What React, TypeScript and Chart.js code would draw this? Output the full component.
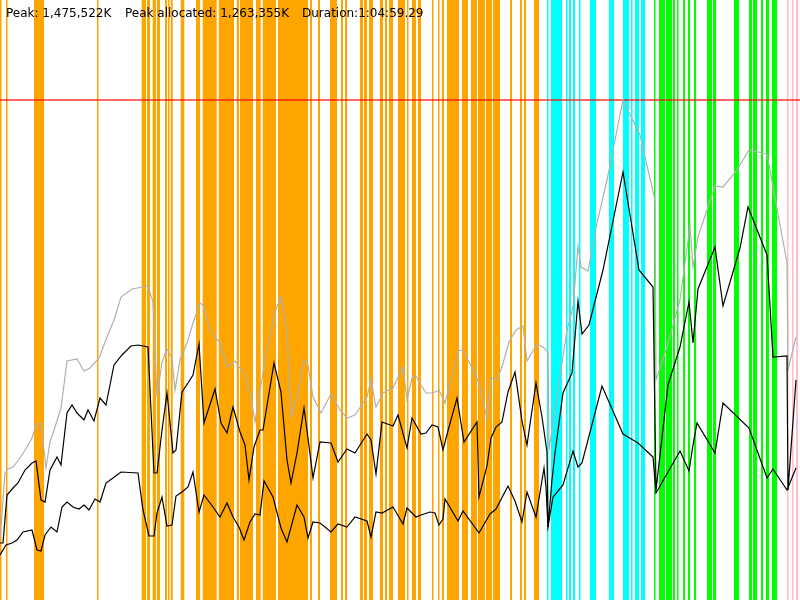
import React, { useEffect, useRef } from "react";
import { Chart, registerables } from "chart.js";

Chart.register(...registerables);

// Elapsed time as % of run duration (1:04:59.29); memory as % of peak (1,475,522K)
const peakLabel = "Peak: 1,475,522K";
const allocLabel = "Peak allocated: 1,263,355K";
const durationLabel = "Duration:1:04:59.29";
const peakLevel = 100;

const committedT = [0, 0.625, 1, 1.625, 2.5, 3.375, 4, 4.5, 5.125, 5.75, 6.25, 6.875, 7.625, 8.375, 9.625, 10.5, 11.25, 12.375, 13.375, 14.25, 15.125, 16.5, 18.5, 19.125, 19.625, 20.25, 20.875, 21.5, 21.875, 22.5, 23.375, 24.125, 25, 25.5, 26.25, 27, 27.5, 28.375, 29.375, 30.625, 31.25, 31.875, 32.5, 33.375, 34.375, 35.125, 35.875, 36.375, 37.125, 38, 38.5, 39.125, 40.125, 41.375, 42.5, 43.375, 44.375, 45.875, 46.375, 47, 47.875, 49.125, 50.375, 50.875, 51.5, 52, 52.625, 53.25, 54.125, 54.875, 55.625, 56.625, 57.25, 57.875, 59, 59.875, 60.875, 61.375, 62.125, 62.75, 63.625, 64.5, 65.375, 65.875, 67.125, 67.875, 68.5, 68.625, 69.375, 70.25, 70.875, 71.625, 72.25, 72.625, 73.5, 74.625, 75.875, 77.875, 80, 81.875, 82, 83.375, 85, 86.25, 86.625, 87.25, 89.375, 90.375, 92.125, 93.625, 95.875, 98.375, 98.5, 99.5];
const committedV = [12, 25.4, 26.2, 26.6, 28.4, 30.6, 32.4, 35, 35.4, 26.4, 31.6, 34.6, 38.4, 47.8, 48.2, 45.8, 46.4, 48.4, 52.6, 56, 60.6, 62.2, 62.8, 59.6, 40.6, 47.6, 50.2, 48.4, 42, 48, 51.4, 55.4, 59.4, 58.8, 54, 52.2, 51.6, 46.6, 47.8, 45, 41.4, 35.6, 42, 50, 57.6, 60.6, 54, 36.6, 40.6, 48, 47, 40.6, 37.4, 41.2, 38, 36.4, 37, 40.6, 44, 38.6, 41.4, 42.4, 46.6, 40, 44.4, 44.8, 43, 41.4, 41.4, 42, 39.4, 45.4, 49.8, 50, 46.4, 43.4, 36.2, 44.4, 44, 46.6, 51.6, 54, 54.8, 47.8, 51.2, 50.6, 49.6, 30, 38, 47.4, 54, 58.6, 70.8, 66.6, 65.8, 75.4, 84, 100, 93, 80, 44, 50.6, 60, 74.8, 66.6, 72.6, 82.8, 82.6, 86, 90, 89.2, 67.4, 46, 52.6];

const usedT = [0, 0.375, 0.875, 1.625, 2.25, 3.125, 4, 4.5, 5.125, 5.625, 6.25, 7.125, 7.625, 8.375, 9, 9.625, 10.5, 11, 11.75, 12.5, 13.25, 14.25, 15.25, 16.375, 17.25, 18.5, 19.25, 19.625, 20.25, 20.875, 21.625, 22, 22.75, 23.5, 24.125, 24.875, 25.5, 26.875, 27.625, 28.375, 29.125, 30, 30.625, 31.125, 31.75, 32.5, 32.875, 34.25, 35.125, 35.875, 36.375, 37.125, 38, 38.5, 39.125, 40, 41.375, 42.25, 43.375, 44.375, 45.875, 46.375, 47, 47.75, 49.125, 49.75, 50.875, 51.5, 52.625, 53.25, 54, 54.75, 55.375, 56.125, 57.125, 58, 59.625, 59.875, 60.875, 61.375, 62, 62.75, 63.5, 64.375, 65.25, 65.875, 67, 67.75, 68.375, 68.5, 69, 69.375, 70.375, 71.5, 72.25, 72.75, 73.625, 75.375, 77.875, 79.875, 81.625, 82, 83.5, 85, 86.125, 86.625, 87.25, 89.375, 90.375, 92.5, 93.5, 95.875, 96.625, 98.375, 98.5, 99.5];
const usedV = [11.4, 11.4, 21, 22.4, 23.4, 26, 27.4, 27.8, 20, 19.6, 26, 28.6, 27, 37.4, 39, 37.4, 36, 38, 35.8, 40.4, 39, 47, 49, 50.8, 51, 50.6, 25.4, 25.4, 34, 41.4, 29.4, 30, 41.6, 43.4, 45, 51.2, 35.4, 42.2, 35.4, 33.4, 38.6, 33.6, 31, 24, 30.6, 34, 34, 47.4, 41.6, 28, 23.4, 29.4, 38.4, 32.4, 24.4, 31.6, 31.4, 27.6, 30.2, 29.4, 33.2, 32, 25.2, 35.6, 34.8, 37, 30.4, 36.4, 33.2, 33.4, 35, 34.6, 30, 34.6, 40.4, 31.6, 35.6, 20.6, 26.8, 32.4, 34.6, 35.6, 41.6, 45.6, 35.8, 31, 43.4, 36.6, 29.6, 14.6, 24, 29.4, 41.4, 45.4, 59.8, 53.2, 55, 66, 85.6, 66, 62.6, 22, 43, 50.6, 59.6, 51.4, 62.2, 70.6, 58.8, 70.4, 78.6, 69, 48.6, 48.8, 22, 44];

const liveT = [0, 0.75, 1.5, 2.125, 2.875, 4, 4.625, 5.125, 5.625, 6.375, 7.125, 7.75, 8.375, 9.125, 9.875, 10.5, 11.125, 11.875, 12.5, 13.25, 14.125, 15.125, 17.25, 17.875, 18.625, 19.25, 19.625, 20.25, 20.875, 21.5, 22, 22.75, 23.5, 24.125, 24.875, 25.5, 26.625, 27.5, 28.375, 29.125, 29.875, 30.5, 31.25, 31.875, 32.5, 33, 34.125, 35.125, 35.875, 37.125, 38, 38.5, 39.125, 40, 41.375, 42.25, 43.375, 44.375, 45.875, 46.375, 47, 47.75, 49.125, 50.375, 50.875, 52, 52.625, 53.75, 54.375, 54.875, 55.375, 55.625, 57.25, 57.875, 59.875, 61.25, 62, 63.5, 64.375, 65.25, 65.875, 67, 68, 68.25, 68.5, 69.125, 70.375, 71.625, 72.25, 72.75, 75.25, 77.875, 79.75, 81.625, 82, 83.5, 85, 86.125, 86.625, 87.125, 89.375, 90.375, 93.625, 95.875, 96.625, 98.375, 99.5];
const liveV = [9, 11, 11.4, 12, 13.6, 14, 10, 9.8, 13, 14.6, 13.6, 18.6, 19.6, 18.6, 18.2, 19, 18, 20.2, 19.6, 23.4, 24.4, 25.6, 25.4, 18, 12.8, 12.8, 17.4, 20.6, 14.8, 15, 20.8, 21.6, 22.6, 25.6, 17.6, 21, 18.6, 16.6, 19.4, 16.6, 14.6, 12, 15.6, 17.2, 17, 23.8, 20.6, 14.4, 11.6, 19, 16.6, 12.4, 15.6, 15.4, 13.6, 15.2, 14.6, 16.6, 15.8, 12.6, 17.6, 17.4, 18.6, 15.2, 18.4, 16.6, 17, 17.6, 17.4, 15, 16.2, 20.2, 15.8, 17.8, 13.4, 17.2, 18.2, 22.8, 19.8, 15.6, 21.6, 16.6, 26.4, 22.6, 14.6, 20.6, 23, 29.8, 26.6, 27.4, 42.8, 33.2, 31.4, 28.6, 21.4, 25.6, 29.8, 25.8, 31, 35.4, 29.4, 39.4, 34.4, 24.4, 26.2, 22, 26.4];

// Event intervals [start, end] in % of duration
const orangeEvents: [number, number][] = [[0, 0.125], [0.75, 0.94], [4.25, 5.5], [12.125, 12.31], [17.71, 18.25], [18.375, 18.75], [19.09, 19.5], [19.625, 20], [20.625, 20.875], [21, 21.125], [21.34, 21.59], [22.59, 23.04], [24.5, 25], [25.34, 27.09], [27.34, 29.25], [29.59, 29.875], [30, 31.625], [32, 32.59], [32.84, 34.5], [34.75, 38.5], [38.75, 39], [39.75, 40], [41.25, 42.125], [42.625, 42.875], [43.125, 43.375], [45, 45.375], [45.5, 45.875], [46.125, 46.625], [47.5, 47.875], [48.125, 48.375], [48.625, 49.125], [49.75, 50.625], [50.875, 51], [51.5, 52], [52.25, 52.625], [54, 54.125], [54.75, 54.875], [55.25, 55.5], [55.875, 57.375], [57.75, 58.5], [58.875, 59.625], [59.75, 60.625], [60.75, 61.5], [61.625, 62.5], [63.75, 64], [65, 65.25], [65.5, 65.75], [66.75, 67.375]];
const cyanEvents: [number, number][] = [[68.375, 68.5], [68.875, 70.25], [70.75, 70.875], [71.125, 71.375], [71.625, 71.875], [72.375, 72.5], [73.75, 74.5], [76.125, 76.75], [77.875, 78.625], [78.875, 79], [79.375, 79.875], [80.125, 80.625]];
const greenEvents: [number, number][] = [[81.75, 81.875], [82.375, 83.125], [83.25, 84], [84.125, 84.375], [84.625, 84.75], [85.375, 85.625], [86, 86.25], [86.75, 87], [88.375, 89], [89.125, 89.5], [91.75, 92.375], [93.625, 94], [94.125, 94.625], [95.125, 95.375], [95.75, 96.125], [96.5, 97.125]];
const pinkEvents: [number, number][] = [[98.375, 98.5], [99, 99.125], [99.5, 99.75]];

const toPoints = (t: number[], v: number[]) => t.map((x, i) => ({ x, y: v[i] }));

const eventsPlugin = {
  id: "events",
  beforeDatasetsDraw(chart: any) {
    const { ctx, chartArea, scales } = chart;
    const groups: [[number, number][], string][] = [
      [orangeEvents, "#FFA500"],
      [cyanEvents, "#00FFFF"],
      [greenEvents, "#00FF00"],
      [pinkEvents, "#FFC0CB"],
    ];
    ctx.save();
    for (const [list, color] of groups) {
      ctx.fillStyle = color;
      for (const [a, b] of list) {
        const x1 = scales.x.getPixelForValue(a);
        const x2 = scales.x.getPixelForValue(b);
        const w = Math.max(1.5, x2 - x1);
        ctx.fillRect(x1, chartArea.top, w, chartArea.bottom - chartArea.top);
      }
    }
    ctx.restore();
  },
  afterDraw(chart: any) {
    const { ctx } = chart;
    ctx.save();
    ctx.fillStyle = "#000";
    ctx.font = '12px "DejaVu Sans", sans-serif';
    ctx.textBaseline = "alphabetic";
    ctx.fillText(peakLabel, 6, 17);
    ctx.fillText(allocLabel, 125, 17);
    ctx.fillText(durationLabel, 302, 17);
    ctx.restore();
  },
};

export default function App() {
  const ref = useRef<HTMLCanvasElement>(null);
  useEffect(() => {
    document.body.style.margin = "0";
    const chart = new Chart(ref.current!, {
      type: "line",
      data: {
        datasets: [
          { label: "Used", data: toPoints(usedT, usedV), borderColor: "#000", borderWidth: 1.2 },
          { label: "Live", data: toPoints(liveT, liveV), borderColor: "#000", borderWidth: 1.2 },
          { label: "Committed", data: toPoints(committedT, committedV), borderColor: "#b0b0b0", borderWidth: 1.2 },
          { label: "Peak", data: [{ x: 0, y: peakLevel }, { x: 100, y: peakLevel }], borderColor: "rgba(255,0,0,0.6)", borderWidth: 2 },
        ],
      },
      options: {
        animation: false,
        responsive: false,
        layout: { padding: 0 },
        elements: { point: { radius: 0 }, line: { tension: 0 } },
        scales: {
          x: { type: "linear", min: 0, max: 100, display: false },
          y: { type: "linear", min: 0, max: 120, display: false },
        },
        plugins: { legend: { display: false }, tooltip: { enabled: false }, title: { display: false } },
      },
      plugins: [eventsPlugin],
    });
    return () => chart.destroy();
  }, []);
  return (
    <div style={{ width: 800, height: 600 }}>
      <canvas ref={ref} width={800} height={600} />
    </div>
  );
}
